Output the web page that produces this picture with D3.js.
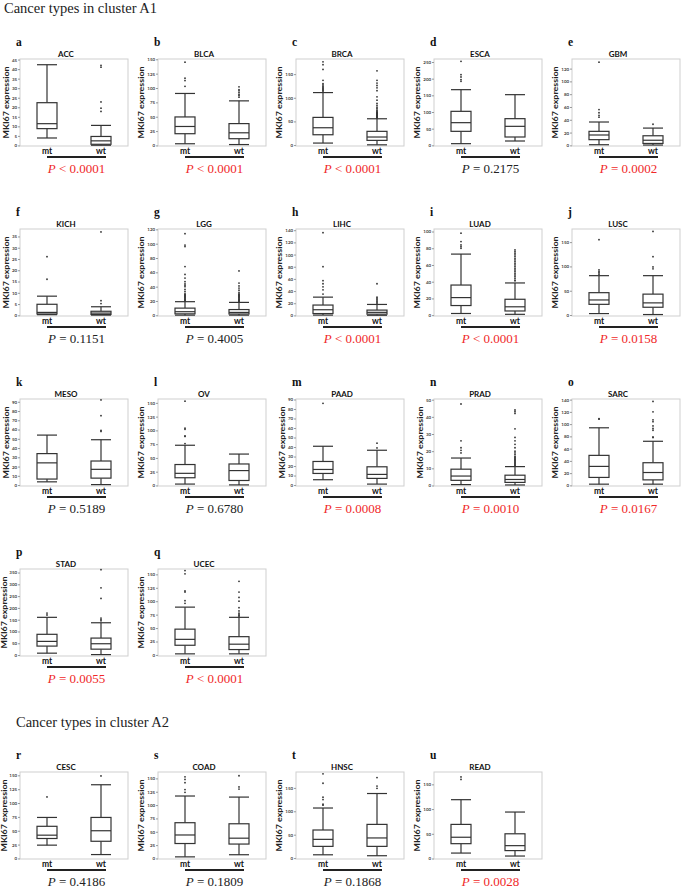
<!DOCTYPE html>
<html><head><meta charset="utf-8">
<script src="https://cdn.jsdelivr.net/npm/d3@7/dist/d3.min.js"></script>
<style>body{margin:0;background:#fff}svg{display:block}</style>
</head><body>
<svg id="chart" width="685" height="891"></svg>
<script>
const cancers = ["ACC","BLCA","BRCA","ESCA","GBM","KICH","LGG","LIHC","LUAD","LUSC","MESO","OV","PAAD","PRAD","SARC","STAD","UCEC","CESC","COAD","HNSC","READ"];
const letters = ["a","b","c","d","e","f","g","h","i","j","k","l","m","n","o","p","q","r","s","t","u"];
const groups = ["mt","wt"];
const pLabels = ["< 0.0001","< 0.0001","< 0.0001","= 0.2175","= 0.0002","= 0.1151","= 0.4005","< 0.0001","< 0.0001","= 0.0158","= 0.5189","= 0.6780","= 0.0008","= 0.0010","= 0.0167","= 0.0055","< 0.0001","= 0.4186","= 0.1809","= 0.1868","= 0.0028"];
const pSignificant = [1,1,1,0,1,0,0,1,1,1,0,0,1,1,1,1,1,0,0,0,1];
const yDomains = [[-0.3,45.3],[-1,150.5],[-2,182],[-2,259],[-1,135],[-0.3,38.3],[-1,120.5],[-1,142],[-1,103],[-2,177],[-1,93],[-1,157],[-1,90.5],[-0.3,50.4],[-1,141],[-4,365],[-2,160],[-1,156],[-1,162],[-2,184],[-1,175]];
const yTicks = [
  [0,5,10,15,20,25,30,35,40,45],[0,25,50,75,100,125,150],[0,50,100,150],[0,50,100,150,200,250],[0,20,40,60,80,100,120],
  [0,5,10,15,20,25,30,35],[0,20,40,60,80,100,120],[0,20,40,60,80,100,120,140],[0,20,40,60,80,100],[0,50,100,150],
  [0,10,20,30,40,50,60,70,80,90],[0,25,50,75,100,125,150],[0,10,20,30,40,50,60,70,80,90],[0,10,20,30,40,50],[0,20,40,60,80,100,120,140],
  [0,50,100,150,200,250,300,350],[0,25,50,75,100,125,150],
  [0,25,50,75,100,125,150],[0,25,50,75,100,125,150],[0,50,100,150],[0,50,100,150]];
// [whisker low, q1, median, q3, whisker high]
const mtStats = [[3.9,8.8,11.4,22.4,42.3],[2.9,20.4,33,49.6,90.5],[4.2,21.8,36.6,58.5,111],[5,42,68,102,167],[1,8.9,16.2,21.9,36.5],
  [0.3,0.6,1.3,4.9,8.5],[0.2,2,5,10,19],[0.5,3,9.3,17,30],[2,11.5,21,36,73],[3,22,31,46,81],
  [3.5,6.5,24,34,54],[2.5,14,22,38,73],[5.6,12.2,16.4,24.8,40.8],[0.5,3,5.5,9.5,16],[2,13,31,49,94],
  [8,38,58,88,160],[2,18,29,48,89],[24,36,42,58,74],[3,28,44,67,117],[7,25,40,60,107],[11,30,43,69,119]];
const wtStats = [[0.1,0.6,2.4,4.7,10.5],[1.5,11.7,22,38,77.6],[0.5,9.9,17,29,55.6],[13,25,57,80,152],[0.5,3,8,15,27],
  [0.1,0.4,1,1.8,3.8],[0.2,1.8,4,8,18],[0.2,2,5,8.7,18],[1,5,10,19,38.5],[1,16,25,43,81],
  [0.5,7.5,17,26,49],[1,9,27,39,57],[1,7,11.2,19.2,36.6],[0.3,1.8,3.5,6,11],[2,9,21,37,72],
  [2,25,48,72,137],[2,10,20,34,70],[7,31,50,74,133],[7,27,38,65,115],[5,25,43,72,138],[5,16,26,50,94]];
const mtOutliers = [[],[103,113,117,145],[114,116,118,120,122,124,127,130,137,160,170,176],[192,197,205,212,252],[44,47,51,56,130],
  [16,26],[20,21,22,23,24,25,26,27,28,29,30,33,36,40,42,44,47,52,57,68,96,98,114],[35,42,47,52,57,80,136],[80,82,84,88,98],[84,87,90,93,155],
  [],[76,89,90,102,104,153],[86],[19,20.5,22,26,47.5],[108,109],
  [170,178],[96,101,117,119,151,157],[111],[124,129,142,148,153],[113,115,125,130,160,180],[160,165]];
const wtOutliers = [[17.8,19.5,22.8,41,42],[84,87,89,92,95,97,102],[57,58,59,60,61,62,63,64,65,66,67,68,69,70,72,74,77,80,84,88,95,102,115,121,126,131,137,157],[],[33],
  [5.2,6.5,37],[19,20,21,22,23,24,25,26,27,28,29,30,32,35,38,41,45,62],[20,22,24,26,28,30,52],[41,42,44,46,48,50,52,54,56,58,60,62,64,66,68,70,72,74,76,78],[95,99,120,172],
  [58,59,75,92],[],[39,44],[11.5,12,12.5,13,13.5,14,14.5,15,15.5,16,16.5,17,18,19,20,22,24,26,28,33,42,43,44],[78,79,90,93,97,104,107,120,137],
  [145,150,157,240,285,362],[72,74,76,78,82,88,100,107,117,137],[149],[130,134,155],[149,154,172],[]];
const sectionTitles = ["Cancer types in cluster A1","Cancer types in cluster A2"];

const svg = d3.select("#chart");
const colLeft = [20,158,296,434,572];
const rowTop = [59,229,399,569,772];
const W = 108, H = 87, boxW = 20;
const ink = "#333";

svg.append("text").attr("x",4).attr("y",13).attr("font-family","Liberation Serif").attr("font-size",14.5).attr("fill","#222").text(sectionTitles[0]);
svg.append("text").attr("x",16).attr("y",727).attr("font-family","Liberation Serif").attr("font-size",14.5).attr("fill","#222").text(sectionTitles[1]);

cancers.forEach((name,i)=>{
  let row, col;
  if (i < 17) { row = Math.floor(i/5); col = i%5; } else { row = 4; col = i-17; }
  const x0 = colLeft[col], y0 = rowTop[row];
  const g = svg.append("g").attr("transform",`translate(${x0},${y0})`);
  const x = d3.scalePoint().domain(groups).range([0,W]).padding(0.5);
  const y = d3.scaleLinear().domain(yDomains[i]).range([H,0]);

  g.append("rect").attr("x",0).attr("y",0).attr("width",W).attr("height",H)
    .attr("fill","none").attr("stroke","#cfcfcf").attr("stroke-width",1);

  const ax = g.append("g").call(d3.axisLeft(y).tickValues(yTicks[i]).tickSize(2).tickPadding(0.8));
  ax.select(".domain").remove();
  ax.selectAll(".tick line").attr("stroke","#999");
  ax.selectAll(".tick text").attr("font-family","Lato, sans-serif").attr("font-size",4.5).attr("font-weight","bold").attr("fill","#444");
  let minX = 0;
  ax.selectAll(".tick text").each(function(){ const b=this.getBBox(); minX=Math.min(minX,b.x); });
  const labelX = Math.max(minX - 5.5, 4.5 - x0);

  g.append("text").attr("transform",`translate(${labelX},${H/2}) rotate(-90)`).attr("text-anchor","middle")
    .attr("dy","0.35em").attr("font-family","Lato, sans-serif").attr("font-weight","bold").attr("font-size",7.2).attr("fill","#222")
    .attr("textLength",72).attr("lengthAdjust","spacingAndGlyphs")
    .text("MKI67 expression");

  g.append("text").attr("x",W/2-8).attr("y",-2).attr("text-anchor","middle")
    .attr("font-family","Lato, sans-serif").attr("font-weight","bold").attr("font-size",8).attr("fill","#111").text(name);

  g.append("text").attr("x",-4).attr("y",-13).attr("font-family","Liberation Serif").attr("font-weight","bold").attr("font-size",11.5).attr("fill","#111").text(letters[i]);

  [[mtStats[i],mtOutliers[i],"mt"],[wtStats[i],wtOutliers[i],"wt"]].forEach(([s,out,grp])=>{
    const cx = x(grp);
    const bg = g.append("g").attr("stroke",ink).attr("stroke-width",1.2).attr("fill","none");
    bg.append("line").attr("x1",cx).attr("x2",cx).attr("y1",y(s[0])).attr("y2",y(s[1]));
    bg.append("line").attr("x1",cx).attr("x2",cx).attr("y1",y(s[3])).attr("y2",y(s[4]));
    bg.append("line").attr("x1",cx-boxW/2).attr("x2",cx+boxW/2).attr("y1",y(s[0])).attr("y2",y(s[0]));
    bg.append("line").attr("x1",cx-boxW/2).attr("x2",cx+boxW/2).attr("y1",y(s[4])).attr("y2",y(s[4]));
    bg.append("rect").attr("x",cx-boxW/2).attr("y",y(s[3])).attr("width",boxW).attr("height",y(s[1])-y(s[3])).attr("fill","#fff");
    bg.append("line").attr("x1",cx-boxW/2).attr("x2",cx+boxW/2).attr("y1",y(s[2])).attr("y2",y(s[2]));
    g.selectAll(null).data(out).enter().append("circle").attr("cx",cx).attr("cy",d=>y(d)).attr("r",0.9).attr("fill",ink);
    g.append("text").attr("x",cx).attr("y",H+8).attr("text-anchor","middle").attr("font-family","Lato, sans-serif")
      .attr("font-weight","bold").attr("font-size",8.5).attr("fill","#111").text(grp);
  });

  g.append("line").attr("x1",27).attr("x2",86).attr("y1",H+11).attr("y2",H+11).attr("stroke","#222").attr("stroke-width",1.8);

  const pt = g.append("text").attr("x",56.5).attr("y",H+27).attr("text-anchor","middle").attr("font-family","Liberation Serif")
    .attr("font-size",13).attr("fill",pSignificant[i] ? "#f02828" : "#222");
  pt.append("tspan").attr("font-style","italic").text("P");
  pt.append("tspan").text(" " + pLabels[i]);
});
</script>
</body></html>
